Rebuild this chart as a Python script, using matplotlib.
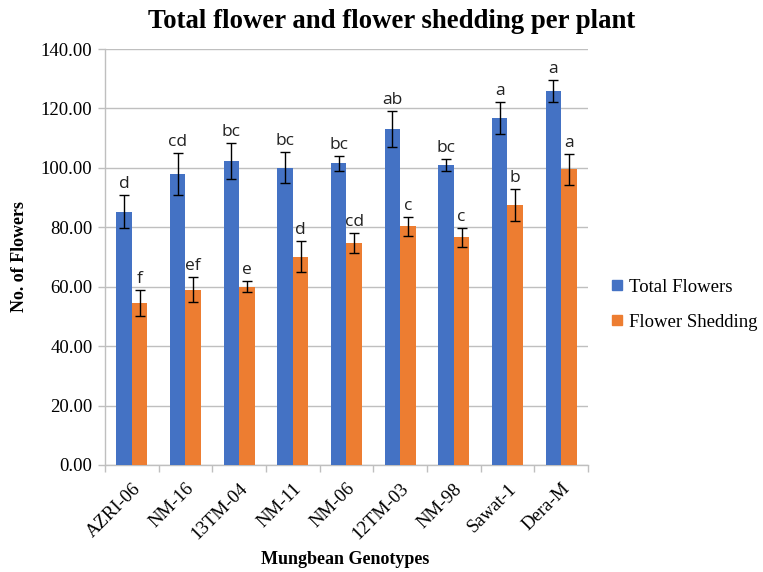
import numpy as np
import matplotlib
matplotlib.use("Agg")
import matplotlib.pyplot as plt
from matplotlib.lines import Line2D

genotypes = ["AZRI-06", "NM-16", "13TM-04", "NM-11", "NM-06", "12TM-03", "NM-98", "Sawat-1", "Dera-M"]
total_flowers = [85.3, 98.0, 102.3, 100.1, 101.5, 113.0, 100.9, 116.7, 125.9]
total_err = [5.6, 7.0, 6.2, 5.3, 2.6, 6.0, 2.0, 5.4, 3.8]
total_letters = ["d", "cd", "bc", "bc", "bc", "ab", "bc", "a", "a"]
shedding = [54.6, 59.0, 60.0, 70.1, 74.6, 80.4, 76.7, 87.5, 99.6]
shed_err = [4.4, 4.2, 1.8, 5.2, 3.4, 3.2, 3.2, 5.5, 5.2]
shed_letters = ["f", "ef", "e", "d", "cd", "c", "c", "b", "a"]

BLUE = "#4472C4"
ORANGE = "#ED7D31"
GRID = "#BFBFBF"
serif = "Liberation Serif"

fig = plt.figure(figsize=(7.63, 5.72), dpi=100)
ax = fig.add_axes([0.1376, 0.1871, 0.633, 0.7272])

x = np.arange(len(genotypes))
w = 0.29
ax.bar(x - w / 2, total_flowers, w, color=BLUE, zorder=3, label="Total Flowers")
ax.bar(x + w / 2, shedding, w, color=ORANGE, zorder=3, label="Flower Shedding")
ekw = dict(fmt="none", ecolor="black", elinewidth=1.0, capsize=3.5, capthick=1.0, zorder=4)
ax.errorbar(x - w / 2, total_flowers, yerr=total_err, **ekw)
ax.errorbar(x + w / 2, shedding, yerr=shed_err, **ekw)

for xi, v, e, t in zip(x - w / 2, total_flowers, total_err, total_letters):
    ax.text(xi, v + e + 1.0, t, ha="center", va="bottom", fontsize=12.5,
            family="Open Sans", color="#222222", zorder=5)
for xi, v, e, t in zip(x + w / 2, shedding, shed_err, shed_letters):
    ax.text(xi, v + e + 1.0, t, ha="center", va="bottom", fontsize=12.5,
            family="Open Sans", color="#222222", zorder=5)

ax.set_xlim(-0.5, len(genotypes) - 0.5)
ax.set_ylim(0, 140)
ax.set_yticks(np.arange(0, 141, 20))
ax.set_yticklabels([f"{v:.2f}" for v in np.arange(0, 141, 20)], family=serif, fontsize=13.5)
ax.yaxis.grid(True, color=GRID, linewidth=1.0, zorder=0)
ax.set_axisbelow(True)

ax.set_xticks(x)
ax.set_xticklabels(genotypes, rotation=45, ha="right", rotation_mode="anchor",
                   family=serif, fontsize=13.5)
ax.tick_params(axis="x", length=0, pad=11)
ax.set_xticks(np.arange(-0.5, len(genotypes), 1), minor=True)
ax.tick_params(axis="x", which="minor", length=5, color=GRID, width=1)
ax.tick_params(axis="y", length=5, color=GRID, width=1, pad=4)

for s in ["top", "right"]:
    ax.spines[s].set_visible(False)
for s in ["left", "bottom"]:
    ax.spines[s].set_color(GRID)
    ax.spines[s].set_linewidth(1.0)

fig.text(0.452, 0.021, "Mungbean Genotypes", ha="center", va="center",
         family=serif, fontweight="bold", fontsize=13)
fig.text(0.025, 0.551, "No. of Flowers", ha="center", va="center", rotation=90,
         family=serif, fontweight="bold", fontsize=13)
fig.text(0.513, 0.962, "Total flower and flower shedding per plant", ha="center", va="center",
         family=serif, fontweight="bold", fontsize=19.3)

handles = [Line2D([], [], marker="s", linestyle="none", markersize=6.5, color=BLUE),
           Line2D([], [], marker="s", linestyle="none", markersize=6.5, color=ORANGE)]
fig.legend(handles, ["Total Flowers", "Flower Shedding"], loc="center left",
           bbox_to_anchor=(0.800, 0.467), frameon=False, prop={"family": serif, "size": 13.5},
           handletextpad=0.3, labelspacing=0.95, handlelength=0.7, borderpad=0,
           borderaxespad=0)

fig.savefig("out.png", dpi=100)
